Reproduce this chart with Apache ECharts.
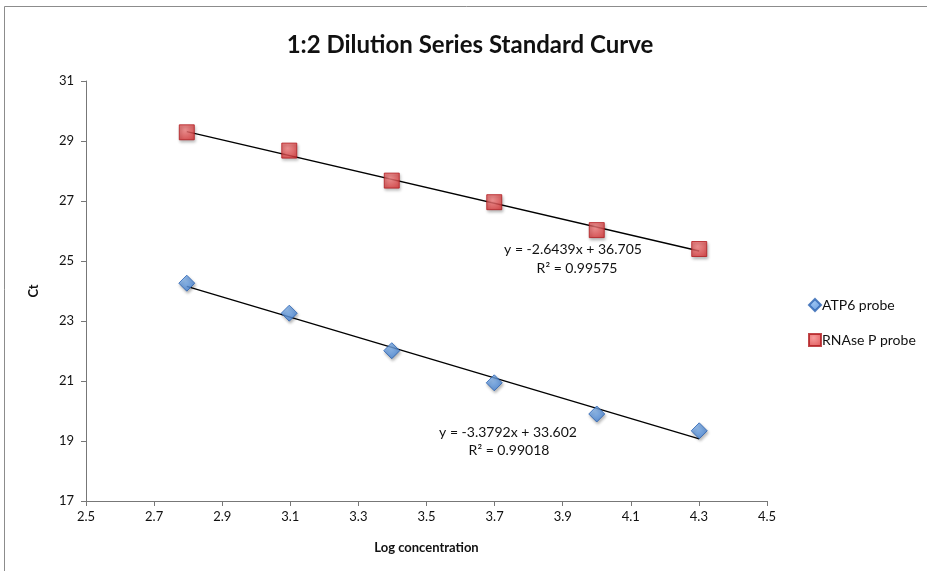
<!DOCTYPE html>
<html>
<head>
<meta charset="utf-8">
<script src="https://cdn.jsdelivr.net/npm/echarts@6/dist/echarts.min.js"></script>
<style>
  html, body { margin: 0; padding: 0; background: #fff; }
  #chart { width: 927px; height: 571px; }
</style>
</head>
<body>
<div id="chart"></div>
<script>
// Log10 of the template concentration for each 1:2 dilution step
const logConc = [2.796, 3.097, 3.398, 3.699, 4.0, 4.301];
// Threshold cycle (Ct) for each probe
const atp6Ct = [24.26, 23.26, 22.01, 20.94, 19.90, 19.34];
const rnasePCt = [29.29, 28.68, 27.68, 26.96, 26.03, 25.40];
// Linear fits: [slope, intercept, R²]
const atp6Fit = [-3.3792, 33.602, 0.99018];
const rnasePFit = [-2.6439, 36.705, 0.99575];
const xTicks = [2.5, 2.7, 2.9, 3.1, 3.3, 3.5, 3.7, 3.9, 4.1, 4.3, 4.5];
const yTicks = [17, 19, 21, 23, 25, 27, 29, 31];

const FONT = 'Lato, "Open Sans", sans-serif';

function pairs(xs, ys) { return xs.map((x, i) => [x, ys[i]]); }
function fitLine(fit) {
  const x0 = logConc[0], x1 = logConc[logConc.length - 1];
  return [[x0, fit[0] * x0 + fit[1]], [x1, fit[0] * x1 + fit[1]]];
}
function eqText(fit) {
  return 'y = ' + fit[0].toFixed(4) + 'x + ' + fit[1].toFixed(3);
}

const chart = echarts.init(document.getElementById('chart'), null, { renderer: 'canvas' });

const squareStyle = {
  color: new echarts.graphic.RadialGradient(0.4, 0.35, 0.8, [
    { offset: 0, color: '#f58383' },
    { offset: 1, color: '#d62c2e' }
  ]),
  borderColor: '#b01c1f',
  borderWidth: 1,
  shadowColor: 'rgba(0,0,0,0.35)',
  shadowBlur: 3,
  shadowOffsetX: 1,
  shadowOffsetY: 2
};
const diamondStyle = {
  color: new echarts.graphic.RadialGradient(0.4, 0.35, 0.8, [
    { offset: 0, color: '#82b4ee' },
    { offset: 1, color: '#3779d2' }
  ]),
  borderColor: '#2a62b0',
  borderWidth: 1,
  shadowColor: 'rgba(0,0,0,0.35)',
  shadowBlur: 3,
  shadowOffsetX: 1,
  shadowOffsetY: 2
};

const labelStyle = { fontFamily: FONT, fontSize: 13, color: '#111' };
const eqFont = '14px ' + FONT;

chart.setOption({
  animation: false,
  backgroundColor: '#fff',
  title: {
    text: '1:2 Dilution Series Standard Curve',
    left: 465,
    top: 28,
    textAlign: 'center',
    textStyle: { fontFamily: FONT, fontSize: 24, fontWeight: 'bold', color: '#111' }
  },
  grid: { left: 86, right: 160, top: 81, bottom: 70 },
  xAxis: {
    type: 'value',
    min: xTicks[0],
    max: xTicks[xTicks.length - 1],
    name: 'Log concentration',
    nameLocation: 'middle',
    nameGap: 40,
    nameTextStyle: { fontFamily: FONT, fontSize: 13, fontWeight: 'bold', color: '#111' },
    axisLine: { show: true, onZero: false, lineStyle: { color: '#777', width: 1 } },
    axisTick: { show: true, inside: false, length: 5, lineStyle: { color: '#777' }, customValues: xTicks },
    axisLabel: Object.assign({ margin: 9, customValues: xTicks, formatter: v => v.toFixed(1) }, labelStyle),
    splitLine: { show: false }
  },
  yAxis: {
    type: 'value',
    min: yTicks[0],
    max: yTicks[yTicks.length - 1],
    name: 'Ct',
    nameLocation: 'middle',
    nameGap: 46,
    nameRotate: 90,
    nameTextStyle: { fontFamily: FONT, fontSize: 13, fontWeight: 'bold', color: '#111' },
    axisLine: { show: true, lineStyle: { color: '#777', width: 1 } },
    axisTick: { show: true, inside: false, length: 5, lineStyle: { color: '#777' }, customValues: yTicks },
    axisLabel: Object.assign({ margin: 12, customValues: yTicks }, labelStyle),
    splitLine: { show: false }
  },
  legend: {
    orient: 'vertical',
    left: 803,
    top: 293,
    itemGap: 21,
    itemWidth: 12,
    itemHeight: 12,
    textStyle: { fontFamily: FONT, fontSize: 14, color: '#111', padding: [0, 0, 0, -4] },
    data: [
      { name: 'ATP6 probe', icon: 'diamond' },
      { name: 'RNAse P probe', icon: 'rect' }
    ]
  },
  series: [
    {
      name: 'ATP6 fit', type: 'line', data: fitLine(atp6Fit), symbol: 'none',
      lineStyle: { color: '#000', width: 1.3 }, z: 1, silent: true
    },
    {
      name: 'RNAse P fit', type: 'line', data: fitLine(rnasePFit), symbol: 'none',
      lineStyle: { color: '#000', width: 1.3 }, z: 1, silent: true
    },
    {
      name: 'ATP6 probe', type: 'scatter', data: pairs(logConc, atp6Ct),
      symbol: 'diamond', symbolSize: 16, itemStyle: diamondStyle, z: 3
    },
    {
      name: 'RNAse P probe', type: 'scatter', data: pairs(logConc, rnasePCt),
      symbol: 'rect', symbolSize: 15, itemStyle: squareStyle, z: 3
    }
  ],
  graphic: [
    {
      type: 'rect', silent: true, z: -1,
      shape: { x: 4.5, y: 6.5, width: 1000, height: 1000 },
      style: { fill: 'none', stroke: '#8c8c8c', lineWidth: 1 }
    },
    {
      type: 'text', x: 573, y: 242, silent: true,
      style: { text: eqText(rnasePFit), font: eqFont, fill: '#111', align: 'center' }
    },
    {
      type: 'text', x: 577, y: 261, silent: true,
      style: { text: 'R² = ' + rnasePFit[2].toFixed(5), font: eqFont, fill: '#111', align: 'center' }
    },
    {
      type: 'text', x: 508, y: 425, silent: true,
      style: { text: eqText(atp6Fit), font: eqFont, fill: '#111', align: 'center' }
    },
    {
      type: 'text', x: 509, y: 443, silent: true,
      style: { text: 'R² = ' + atp6Fit[2].toFixed(5), font: eqFont, fill: '#111', align: 'center' }
    }
  ]
});
</script>
</body>
</html>
